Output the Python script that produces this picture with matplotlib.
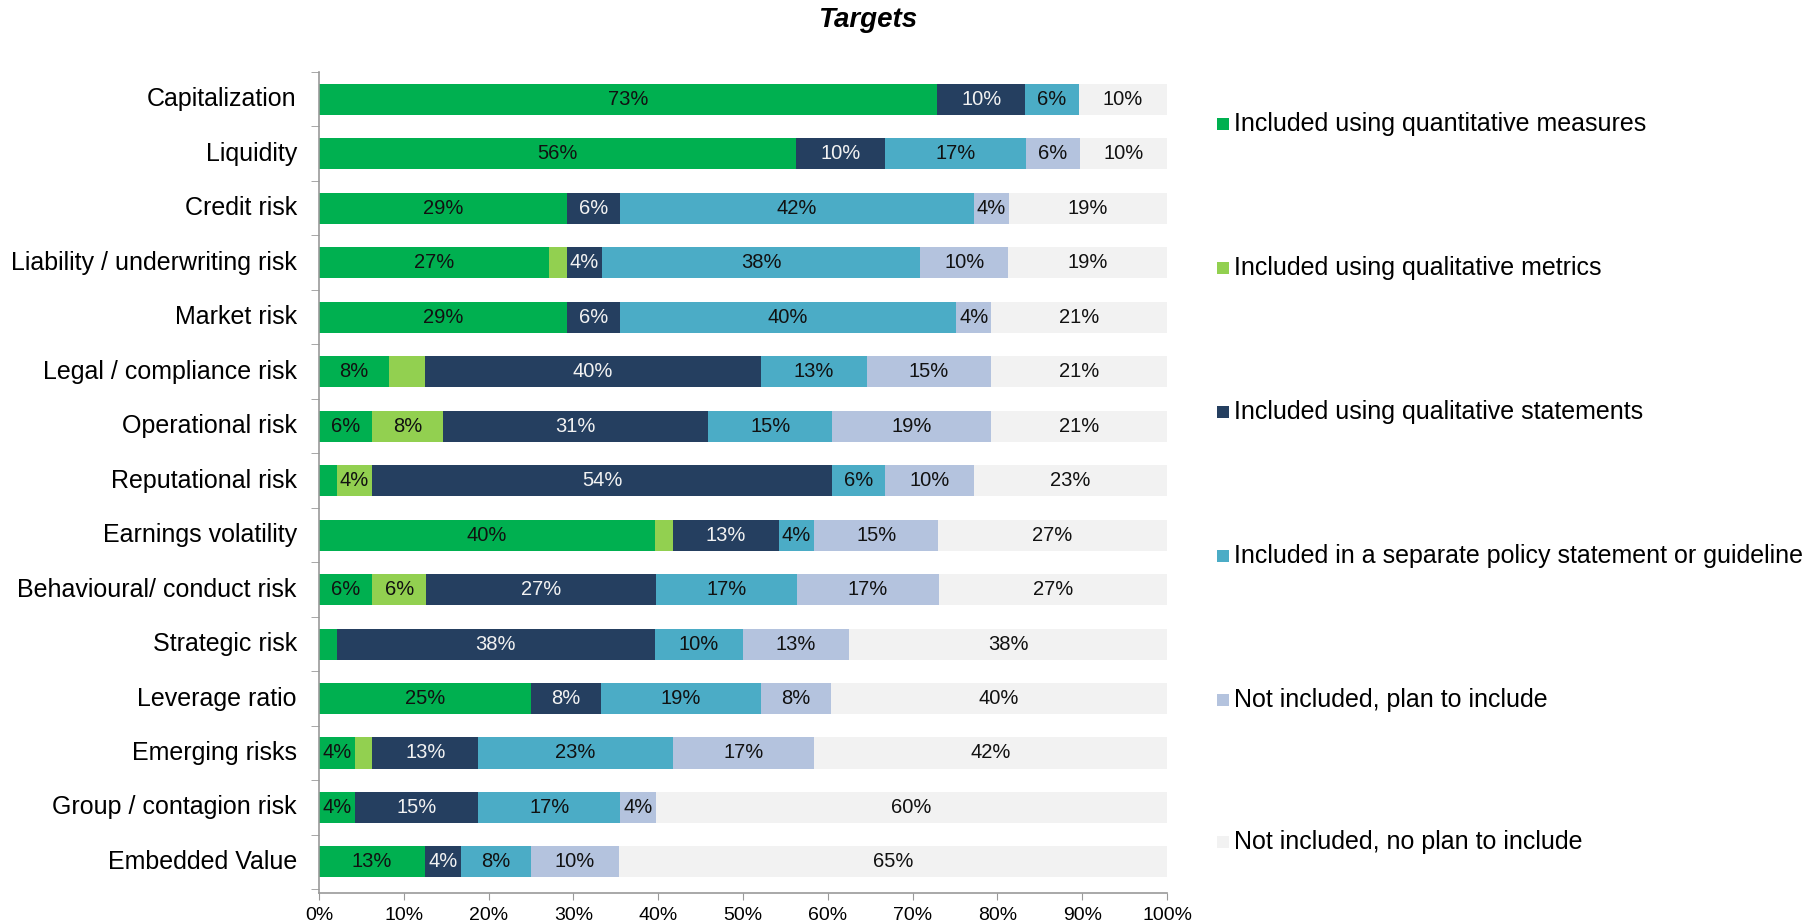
import matplotlib
matplotlib.use("Agg")
import matplotlib.pyplot as plt
from matplotlib.patches import Rectangle
from matplotlib.ticker import MultipleLocator, PercentFormatter

plt.rcParams["font.family"] = ["Liberation Sans", "DejaVu Sans"]

categories = [
    "Capitalization", "Liquidity", "Credit risk", "Liability / underwriting risk",
    "Market risk", "Legal / compliance risk", "Operational risk", "Reputational risk",
    "Earnings volatility", "Behavioural/ conduct risk", "Strategic risk",
    "Leverage ratio", "Emerging risks", "Group / contagion risk", "Embedded Value",
]

# shares in %
quantitative = [72.9, 56.3, 29.2, 27.1, 29.2, 8.3, 6.3, 2.1, 39.6, 6.3, 2.1, 25.0, 4.2, 4.2, 12.5]
qual_metrics = [0, 0, 0, 2.1, 0, 4.2, 8.3, 4.2, 2.1, 6.3, 0, 0, 2.1, 0, 0]
qual_statements = [10.4, 10.4, 6.3, 4.2, 6.3, 39.6, 31.3, 54.2, 12.5, 27.1, 37.5, 8.3, 12.5, 14.6, 4.2]
policy = [6.3, 16.7, 41.7, 37.5, 39.6, 12.5, 14.6, 6.3, 4.2, 16.7, 10.4, 18.8, 22.9, 16.7, 8.3]
plan = [0, 6.3, 4.2, 10.4, 4.2, 14.6, 18.8, 10.4, 14.6, 16.7, 12.5, 8.3, 16.7, 4.2, 10.4]
no_plan = [10.4, 10.4, 18.8, 18.8, 20.8, 20.8, 20.8, 22.9, 27.1, 27.1, 37.5, 39.6, 41.7, 60.4, 64.6]

series_names = [
    "Included using quantitative measures",
    "Included using qualitative metrics",
    "Included using qualitative statements",
    "Included in a separate policy statement or guideline",
    "Not included, plan to include",
    "Not included, no plan to include",
]
series = [quantitative, qual_metrics, qual_statements, policy, plan, no_plan]
colors = ["#00B050", "#92D050", "#253F60", "#4BACC6", "#B4C3DE", "#F2F2F2"]
text_colors = ["#111111", "#111111", "#F2F2F2", "#111111", "#111111", "#111111"]

# (row, series) segments left without a label in the original
hidden_labels = [(5, 1)]

fig = plt.figure(figsize=(18.19, 9.23), dpi=100)
ax = fig.add_axes([319 / 1819, 1 - 893 / 923, (1167 - 319) / 1819, 821 / 923])

y = list(range(len(categories)))
left = [0.0] * len(categories)
for s, (vals, col) in enumerate(zip(series, colors)):
    ax.barh(y, vals, left=left, height=0.57, color=col, linewidth=0)
    for i, v in enumerate(vals):
        if v >= 3 and (i, s) not in hidden_labels:
            mid = (left[i] + min(left[i] + v, 100)) / 2
            ax.text(mid, i, f"{int(v + 0.5)}%", ha="center", va="center",
                    fontsize=14.5, color=text_colors[s])
    left = [l + v for l, v in zip(left, vals)]

ax.set_xlim(0, 100)
ax.set_ylim(14.57, -0.5)
ax.set_yticks(y)
ax.set_yticklabels(categories, fontsize=18, va="center")
ax.yaxis.set_minor_locator(MultipleLocator(1, offset=0.5))
ax.tick_params(axis="y", which="major", length=0, pad=16)
ax.tick_params(axis="y", which="minor", length=6, color="#999999")
ax.xaxis.set_major_locator(MultipleLocator(10))
ax.xaxis.set_major_formatter(PercentFormatter(100, decimals=0))
ax.tick_params(axis="x", length=5, color="#999999", labelsize=14, pad=5)

for side in ["top", "right"]:
    ax.spines[side].set_visible(False)
for side in ["left", "bottom"]:
    ax.spines[side].set_color("#999999")
    ax.spines[side].set_linewidth(1.2)

fig.text(868 / 1819, 1 - 20 / 923, "Targets", ha="center", va="center",
         fontsize=20, fontweight="bold", fontstyle="italic")

# legend on the right
legend_y = [124, 268, 412, 556, 700, 842]
for name, col, ly in zip(series_names, colors, legend_y):
    fig.add_artist(Rectangle((1217 / 1819, 1 - (ly + 6) / 923), 12 / 1819, 12 / 923,
                             transform=fig.transFigure, color=col, linewidth=0))
    fig.text(1234 / 1819, 1 - ly / 923, name, ha="left", va="center", fontsize=18)

fig.savefig("out.png", dpi=100)
